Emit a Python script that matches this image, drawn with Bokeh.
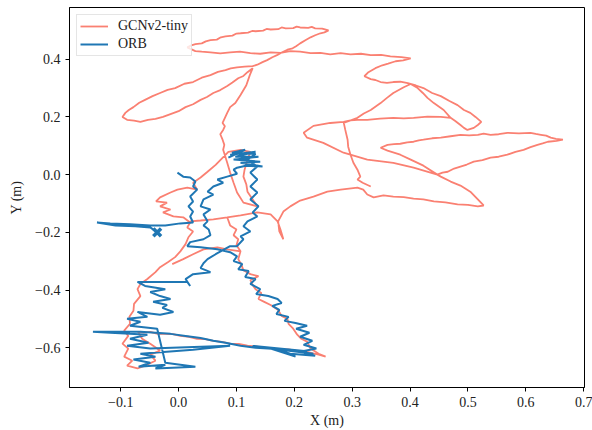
import numpy as np
from bokeh.plotting import figure
from bokeh.models import Range1d, FixedTicker
from bokeh.embed import file_html
from bokeh.resources import INLINE

nan = float("nan")

# ---- data (metres) ----
x_ticks = [-0.1, 0.0, 0.1, 0.2, 0.3, 0.4, 0.5, 0.6, 0.7]
x_tick_labels = ["\u22120.1", "0.0", "0.1", "0.2", "0.3", "0.4", "0.5", "0.6", "0.7"]
y_ticks = [-0.6, -0.4, -0.2, 0.0, 0.2, 0.4]
y_tick_labels = ["\u22120.6", "\u22120.4", "\u22120.2", "0.0", "0.2", "0.4"]

gcn_upper = [
    (0.285, 0.183), (0.297, 0.188), (0.309, 0.190), (0.326, 0.190), (0.348, 0.194), (0.371, 0.197),
    (0.389, 0.195), (0.406, 0.197), (0.430, 0.201), (0.453, 0.200), (0.470, 0.197), (0.478, 0.186),
    (0.487, 0.172), (0.493, 0.162), (0.499, 0.155), (0.510, 0.162), (0.517, 0.172), (0.523, 0.183),
    (0.513, 0.200), (0.504, 0.214), (0.493, 0.224), (0.482, 0.241), (0.468, 0.255), (0.453, 0.272),
    (0.438, 0.283), (0.423, 0.300), (0.410, 0.309), (0.396, 0.317), (0.383, 0.322), (0.371, 0.321),
    (0.360, 0.318), (0.349, 0.321), (0.340, 0.328), (0.332, 0.331), (0.321, 0.341), (0.328, 0.355),
    (0.334, 0.362), (0.340, 0.369), (0.352, 0.379), (0.362, 0.385), (0.375, 0.393), (0.388, 0.396),
    (0.401, 0.403),
    (0.385, 0.407), (0.366, 0.410), (0.350, 0.415), (0.332, 0.414), (0.315, 0.419), (0.297, 0.417),
    (0.280, 0.421), (0.262, 0.417), (0.245, 0.422), (0.228, 0.421), (0.210, 0.426), (0.193, 0.428),
    (0.176, 0.422), (0.159, 0.424), (0.141, 0.419), (0.124, 0.421), (0.106, 0.426), (0.089, 0.424),
    (0.072, 0.420), (0.055, 0.424), (0.040, 0.426), (0.029, 0.428),
    (0.015, 0.441), (0.022, 0.448), (0.029, 0.452), (0.040, 0.455), (0.047, 0.462), (0.055, 0.466),
    (0.066, 0.468), (0.073, 0.476), (0.081, 0.479), (0.093, 0.482), (0.100, 0.489), (0.107, 0.490),
    (0.120, 0.492), (0.127, 0.498), (0.133, 0.497), (0.146, 0.499), (0.152, 0.505), (0.159, 0.503),
    (0.172, 0.504), (0.178, 0.510), (0.185, 0.507), (0.198, 0.508), (0.204, 0.513), (0.210, 0.510),
    (0.224, 0.509), (0.230, 0.512), (0.236, 0.507), (0.248, 0.506), (0.259, 0.500),
    (0.252, 0.493), (0.245, 0.490), (0.236, 0.483), (0.228, 0.476), (0.219, 0.466), (0.210, 0.455),
    (0.203, 0.445), (0.197, 0.438), (0.188, 0.433), (0.179, 0.424), (0.170, 0.414), (0.162, 0.407),
    (0.153, 0.397), (0.145, 0.390), (0.136, 0.381), (0.128, 0.376),
    (0.114, 0.374), (0.101, 0.372), (0.090, 0.368), (0.081, 0.362), (0.068, 0.356), (0.055, 0.345),
    (0.040, 0.336), (0.025, 0.321), (0.010, 0.315), (-0.006, 0.300), (-0.019, 0.294), (-0.032, 0.283),
    (-0.045, 0.272), (-0.058, 0.259), (-0.068, 0.249), (-0.078, 0.234), (-0.086, 0.224), (-0.092, 0.214),
    (-0.097, 0.200),
    (-0.089, 0.190), (-0.077, 0.187), (-0.066, 0.183), (-0.053, 0.190), (-0.040, 0.193), (-0.027, 0.200),
    (-0.014, 0.210), (0.000, 0.220), (0.012, 0.234), (0.025, 0.244), (0.038, 0.259), (0.049, 0.269),
    (0.060, 0.283), (0.072, 0.293), (0.084, 0.307), (0.093, 0.319), (0.103, 0.334), (0.112, 0.342),
    (0.119, 0.355), (0.128, 0.369),
    (0.123, 0.345), (0.117, 0.310), (0.107, 0.276), (0.098, 0.248), (0.089, 0.234), (0.084, 0.214),
    (0.076, 0.179), (0.080, 0.168), (0.077, 0.155), (0.072, 0.140), (0.076, 0.121), (0.079, 0.103),
    (0.077, 0.086), (0.084, 0.041), (0.089, 0.007), (0.095, -0.028), (0.101, -0.062), (0.112, -0.097),
]

gcn_lower = [
    (0.136, -0.110), (0.128, -0.086), (0.119, -0.059), (0.117, -0.034), (0.112, -0.007), (0.114, 0.017),
    (0.119, 0.052), (0.124, 0.079), (0.107, 0.086), (0.086, 0.079), (0.064, 0.034),
    (0.050, 0.010), (0.038, -0.010), (0.025, -0.028), (0.032, -0.052), (0.015, -0.045), (-0.002, -0.052),
    (-0.014, -0.062), (-0.032, -0.079), (-0.039, -0.093), (-0.020, -0.097), (-0.032, -0.110),
    (-0.014, -0.121), (-0.027, -0.131), (-0.009, -0.145), (0.008, -0.148), (0.020, -0.166),
    (0.015, -0.183), (0.025, -0.197), (0.017, -0.217), (0.012, -0.241), (0.003, -0.266),
    (-0.006, -0.286), (-0.018, -0.303), (-0.032, -0.321), (-0.040, -0.338), (-0.054, -0.362),
    (-0.066, -0.379), (-0.071, -0.397), (-0.066, -0.421), (-0.077, -0.448), (-0.078, -0.472),
    (-0.085, -0.493), (-0.084, -0.517), (-0.094, -0.541), (-0.087, -0.559), (-0.097, -0.586),
    (-0.087, -0.603), (-0.094, -0.631), (-0.080, -0.645), (-0.089, -0.662), (-0.071, -0.672),
    (-0.058, -0.662), (-0.040, -0.645), (-0.049, -0.624), (-0.032, -0.610), (-0.049, -0.586),
    (-0.063, -0.569), (-0.070, -0.545),
    (-0.060, -0.548), (-0.049, -0.545), (-0.036, -0.552), (-0.023, -0.552), (-0.010, -0.553),
    (0.003, -0.559), (0.018, -0.562), (0.032, -0.569), (0.046, -0.570), (0.060, -0.576), (0.075, -0.580),
    (0.089, -0.586), (0.104, -0.587), (0.119, -0.593), (0.133, -0.595), (0.146, -0.600), (0.161, -0.602),
    (0.176, -0.607), (0.190, -0.606), (0.202, -0.610), (0.212, -0.615), (0.222, -0.614), (0.232, -0.620),
    (0.242, -0.624), (0.254, -0.631),
    (0.242, -0.621), (0.228, -0.603), (0.222, -0.579), (0.212, -0.569), (0.205, -0.555),
    (0.198, -0.534), (0.190, -0.517), (0.188, -0.500), (0.178, -0.490), (0.172, -0.469),
    (0.159, -0.452), (0.148, -0.441), (0.138, -0.431), (0.143, -0.410), (0.133, -0.397),
    (0.128, -0.383), (0.124, -0.366), (0.138, -0.352), (0.124, -0.345), (0.112, -0.331),
    (0.108, -0.310), (0.103, -0.293), (0.107, -0.266), (0.100, -0.245), (0.103, -0.224),
    (0.095, -0.210), (0.100, -0.190), (0.089, -0.176), (0.084, -0.148),
]

gcn_right = [
    (0.107, -0.141), (0.136, -0.131), (0.159, -0.138), (0.171, -0.162), (0.176, -0.190), (0.181, -0.224),
    (0.174, -0.197), (0.172, -0.162), (0.181, -0.128), (0.193, -0.110), (0.210, -0.090), (0.233, -0.076),
    (0.257, -0.059), (0.280, -0.052), (0.309, -0.045), (0.319, -0.052), (0.326, -0.069),
    (0.337, -0.079), (0.354, -0.072), (0.371, -0.076), (0.389, -0.078), (0.406, -0.083), (0.423, -0.086),
    (0.441, -0.093), (0.461, -0.096), (0.482, -0.103), (0.500, -0.105), (0.517, -0.110), (0.527, -0.107),
    (0.517, -0.086), (0.504, -0.059), (0.487, -0.038), (0.470, -0.024), (0.453, -0.007),
    (0.447, 0.000), (0.456, 0.007), (0.465, 0.010), (0.476, 0.021), (0.487, 0.028), (0.498, 0.035),
    (0.510, 0.045), (0.525, 0.050), (0.539, 0.059), (0.553, 0.062), (0.568, 0.069), (0.582, 0.079),
    (0.596, 0.086), (0.608, 0.095), (0.620, 0.103), (0.629, 0.108), (0.638, 0.114), (0.653, 0.117),
    (0.664, 0.121),
    (0.652, 0.124), (0.643, 0.128), (0.635, 0.135), (0.626, 0.138), (0.617, 0.141), (0.608, 0.145),
    (0.588, 0.143), (0.568, 0.145), (0.553, 0.140), (0.539, 0.138), (0.527, 0.142), (0.517, 0.138),
    (0.502, 0.136), (0.487, 0.138), (0.470, 0.133), (0.453, 0.128), (0.438, 0.126), (0.423, 0.121),
    (0.415, 0.119), (0.406, 0.114), (0.395, 0.112), (0.383, 0.107), (0.372, 0.106), (0.361, 0.103),
    (0.349, 0.093), (0.361, 0.083), (0.383, 0.069), (0.401, 0.052), (0.423, 0.031), (0.447, 0.000),
    (0.406, 0.024), (0.371, 0.041), (0.326, 0.052), (0.285, 0.076), (0.250, 0.110), (0.222, 0.128),
    (0.216, 0.145), (0.233, 0.169), (0.262, 0.179), (0.285, 0.183), (0.288, 0.155), (0.292, 0.121),
    (0.293, 0.097), (0.297, 0.069), (0.302, 0.041), (0.309, 0.017), (0.314, -0.007), (0.309, -0.017),
    (0.318, -0.028), (0.332, -0.041),
]

gcn_wedge = [
    (0.285, 0.179), (0.309, 0.197), (0.320, 0.212), (0.332, 0.224), (0.349, 0.248), (0.360, 0.266),
    (0.371, 0.283), (0.389, 0.303), (0.401, 0.314), (0.413, 0.300), (0.422, 0.283), (0.430, 0.266),
    (0.441, 0.248), (0.458, 0.224), (0.470, 0.197),
]
gcn_cross = [
    (0.107, -0.266), (0.084, -0.259), (0.067, -0.252), (0.043, -0.259), (0.025, -0.276),
    (0.008, -0.293), (-0.011, -0.310),
]
gcn_mid = [(0.020, -0.162), (0.038, -0.159), (0.060, -0.155), (0.084, -0.148)]

orb_main = [
    (0.089, 0.069), (0.133, 0.079), (0.098, 0.062), (0.138, 0.062), (0.095, 0.052), (0.141, 0.045),
    (0.107, 0.041), (0.145, 0.028), (0.116, 0.031), (0.101, 0.024),
    (0.095, 0.017), (0.101, 0.003), (0.084, -0.007), (0.067, -0.017), (0.077, -0.028), (0.060, -0.041),
    (0.050, -0.059), (0.060, -0.069), (0.043, -0.086), (0.038, -0.110), (0.055, -0.121), (0.043, -0.138),
    (0.050, -0.162), (0.043, -0.176), (0.052, -0.190), (0.055, -0.210), (0.043, -0.224), (0.020, -0.234),
    (0.015, -0.248), (0.038, -0.252), (0.067, -0.259), (0.089, -0.269), (0.101, -0.283),
    (0.095, -0.300), (0.110, -0.310), (0.103, -0.328), (0.121, -0.334), (0.115, -0.355), (0.133, -0.362),
    (0.124, -0.379), (0.141, -0.397), (0.134, -0.414), (0.155, -0.421), (0.171, -0.431), (0.178, -0.445),
    (0.162, -0.455), (0.174, -0.469), (0.169, -0.483), (0.190, -0.493), (0.183, -0.507), (0.202, -0.514),
    (0.222, -0.524), (0.203, -0.534), (0.226, -0.548), (0.210, -0.562), (0.231, -0.576), (0.216, -0.590),
    (0.238, -0.603), (0.210, -0.614), (0.236, -0.628), (0.193, -0.621), (0.176, -0.610),
    (0.202, -0.631), (0.159, -0.603), (0.233, -0.621), (0.146, -0.598), (0.222, -0.612), (0.128, -0.594),
    (0.176, -0.605),
    (0.133, -0.600), (0.107, -0.593), (0.081, -0.583), (0.060, -0.576), (0.038, -0.566), (0.012, -0.559),
    (-0.014, -0.552), (-0.040, -0.548), (-0.066, -0.545), (-0.101, -0.545), (-0.135, -0.545),
    (-0.148, -0.545), (-0.118, -0.548), (-0.084, -0.552), (-0.054, -0.555),
    (-0.084, -0.569), (-0.052, -0.583), (-0.089, -0.593), (-0.049, -0.603), (0.089, -0.593),
    (0.025, -0.607), (-0.066, -0.621), (-0.040, -0.631), (-0.078, -0.641), (-0.049, -0.652),
    (-0.069, -0.666), (-0.023, -0.659), (-0.040, -0.672), (0.029, -0.666), (-0.023, -0.652),
    (-0.037, -0.534), (-0.084, -0.524), (-0.066, -0.510), (-0.089, -0.500), (-0.054, -0.493),
    (-0.071, -0.476), (-0.032, -0.486), (-0.009, -0.476), (-0.028, -0.462), (-0.020, -0.452),
    (-0.044, -0.441), (-0.014, -0.431), (-0.032, -0.421), (-0.049, -0.407), (-0.023, -0.397),
    (-0.058, -0.386), (-0.071, -0.372), (0.015, -0.372),
    (0.020, -0.386), (0.012, -0.362), (0.025, -0.345), (0.055, -0.338), (0.038, -0.324),
    (0.043, -0.307), (0.050, -0.293), (0.064, -0.276),
    (0.089, -0.248), (0.101, -0.248), (0.112, -0.224), (0.107, -0.214), (0.124, -0.197), (0.112, -0.179),
    (0.119, -0.162), (0.136, -0.145), (0.128, -0.131), (0.138, -0.110), (0.124, -0.086), (0.136, -0.062),
    (0.124, -0.041), (0.136, -0.017), (0.124, 0.007), (0.136, 0.028), (0.119, 0.052), (0.133, 0.072),
    (0.092, 0.076), (0.115, 0.086), (0.086, 0.059),
]
orb_tail = [
    (-0.002, 0.007), (0.008, -0.007), (0.020, -0.010), (0.029, -0.024), (0.025, -0.041), (0.032, -0.052),
    (0.020, -0.076), (0.025, -0.093), (0.017, -0.110), (0.025, -0.128), (0.020, -0.145), (0.025, -0.166),
    (0.003, -0.169), (-0.023, -0.176), (-0.049, -0.176), (-0.084, -0.172), (-0.118, -0.169),
    (-0.141, -0.166), (-0.109, -0.176), (-0.075, -0.179), (-0.049, -0.183), (-0.037, -0.200),
]
orb_end = [(-0.037, -0.200)]


def join(*segs):
    xs, ys = [], []
    for i, s in enumerate(segs):
        if i:
            xs.append(nan)
            ys.append(nan)
        xs += [pt[0] for pt in s]
        ys += [pt[1] for pt in s]
    return np.array(xs, dtype=float), np.array(ys, dtype=float)


gx, gy = join(gcn_upper + gcn_lower + gcn_right, gcn_wedge, gcn_cross, gcn_mid)
ox, oy = join(orb_main, orb_tail)

FONT = "Liberation Serif"

p = figure(width=592, height=430,
           x_range=Range1d(-0.1885, 0.7013), y_range=Range1d(-0.7379, 0.5793),
           output_backend="svg", toolbar_location=None,
           min_border_left=69, min_border_right=8, min_border_top=7, min_border_bottom=41)

p.line(gx, gy, line_color="#fa8072", line_width=1.8, legend_label="GCNv2-tiny")
p.line(ox, oy, line_color="#1f77b4", line_width=2.0, legend_label="ORB")
p.scatter([pt[0] for pt in orb_end], [pt[1] for pt in orb_end], marker="x", size=11,
          line_color="#1f77b4", line_width=3.5)

p.xgrid.visible = False
p.ygrid.visible = False
p.outline_line_color = "black"
p.outline_line_width = 1
p.outline_line_alpha = 1
p.background_fill_color = "white"
p.border_fill_color = "white"

p.xaxis.ticker = FixedTicker(ticks=x_ticks)
p.yaxis.ticker = FixedTicker(ticks=y_ticks)
p.xaxis.major_label_overrides = {t: s for t, s in zip(x_ticks, x_tick_labels)}
p.yaxis.major_label_overrides = {t: s for t, s in zip(y_ticks, y_tick_labels)}
p.xaxis.axis_label = "X (m)"
p.yaxis.axis_label = "Y (m)"
for ax in (p.xaxis, p.yaxis):
    ax.minor_tick_line_color = None
    ax.major_tick_in = 0
    ax.major_tick_out = 4
    ax.major_tick_line_color = "black"
    ax.axis_line_color = "black"
    ax.major_label_text_font = FONT
    ax.major_label_text_font_size = "14px"
    ax.major_label_text_color = "#222222"
    ax.axis_label_text_font = FONT
    ax.axis_label_text_font_size = "14px"
    ax.axis_label_text_font_style = "normal"
    ax.axis_label_text_color = "#222222"
    ax.major_label_standoff = 5
p.xaxis.axis_label_standoff = 3
p.yaxis.axis_label_standoff = 8
p.yaxis.major_label_orientation = "horizontal"

lg = p.legend[0]
lg.location = "top_left"
lg.margin = 7
lg.padding = 3
lg.spacing = 2
lg.glyph_width = 28
lg.glyph_height = 14
lg.label_height = 14
lg.label_standoff = 10
lg.label_text_font = FONT
lg.label_text_font_size = "14px"
lg.label_text_color = "#222222"
lg.border_line_color = "#cccccc"
lg.border_line_width = 1
lg.background_fill_alpha = 0.8

open("out.html", "w").write(file_html(p, INLINE))
